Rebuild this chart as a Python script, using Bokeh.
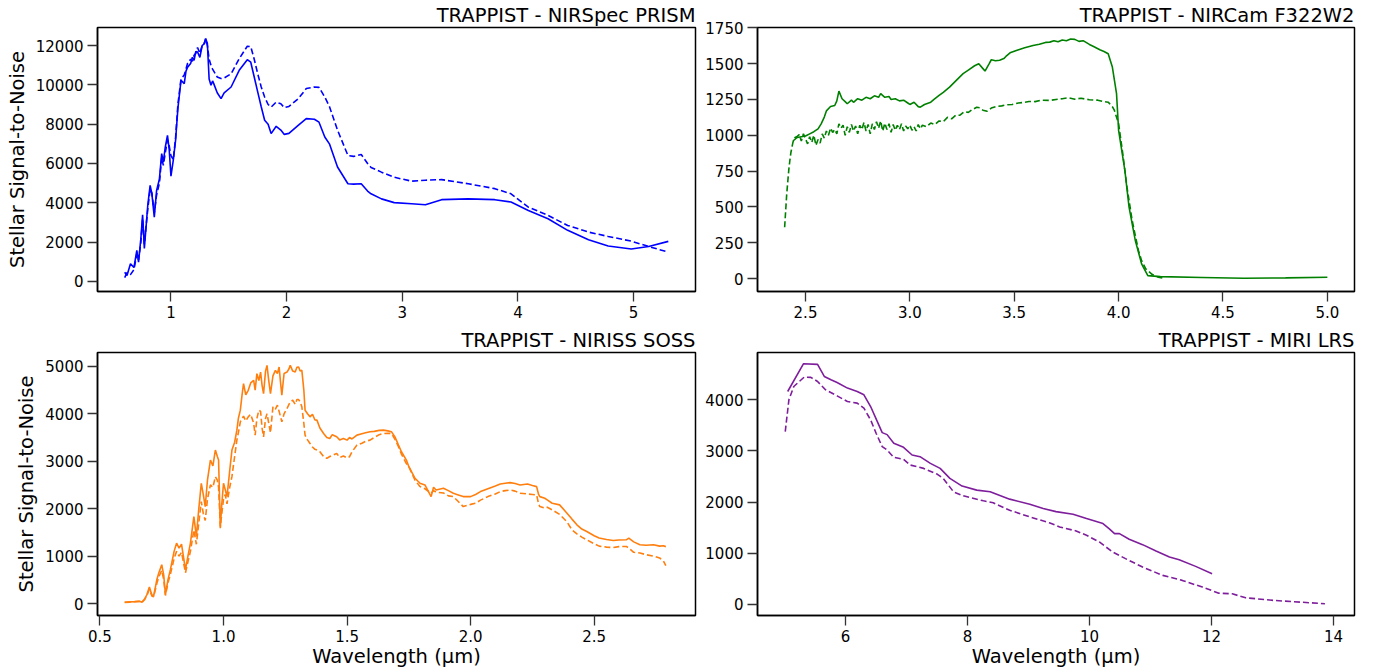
from bokeh.plotting import figure
from bokeh.layouts import column, row
from bokeh.models import Range1d, FixedTicker, PrintfTickFormatter
from bokeh.embed import file_html
from bokeh.resources import INLINE

# ---------------- DATA ----------------
# NIRSpec PRISM (shared wavelength grid; a = solid, b = dashed)
prism_wl = [0.60, 0.62, 0.65, 0.68, 0.705, 0.72, 0.74, 0.755, 0.77, 0.80, 0.82, 0.835, 0.856, 0.876, 0.90,
            0.92, 0.934, 0.95, 0.97, 0.985, 1.0, 1.02, 1.04, 1.06, 1.087, 1.115, 1.13, 1.144, 1.17, 1.185,
            1.20, 1.215, 1.23, 1.25, 1.27, 1.29, 1.30, 1.315, 1.33, 1.346, 1.36, 1.37, 1.40, 1.433, 1.46,
            1.52, 1.59, 1.66, 1.69, 1.72, 1.75, 1.78, 1.81, 1.84, 1.866, 1.91, 1.95, 1.98, 2.02, 2.10,
            2.17, 2.24, 2.28, 2.33, 2.37, 2.44, 2.53, 2.58, 2.645, 2.70, 2.73, 2.82, 2.93, 3.08, 3.20,
            3.34, 3.57, 3.80, 3.94, 4.09, 4.26, 4.43, 4.61, 4.78, 4.98, 5.13, 5.30]
prism_snr_a = [470, 300, 900, 710, 1580, 980, 2200, 3390, 1680, 3900, 4890, 4470, 3270, 4630, 5200,
               6500, 6070, 6800, 7430, 6700, 5360, 6160, 7180, 8800, 10230, 10060, 10700, 10900, 11080, 11400,
               11250, 11700, 11670, 11400, 12000, 12100, 12350, 12100, 10300, 9980, 10200, 10060, 9600, 9300, 9590,
               9890, 10740, 11280, 11150, 10400, 9640, 8900, 8200, 8000, 7520, 7890, 7700, 7480, 7530, 7940,
               8280, 8250, 8100, 7350, 7000, 5820, 4970, 4950, 4970, 4600, 4460, 4200, 4010, 3950, 3900,
               4160, 4200, 4160, 4040, 3610, 3190, 2600, 2120, 1800, 1650, 1780, 2040]
prism_snr_b = [200, 450, 350, 600, 1400, 1100, 2000, 3200, 1900, 3700, 4700, 4500, 3500, 4400, 5000,
               6300, 5900, 6500, 7200, 6900, 6400, 6200, 7300, 9000, 10300, 10500, 10800, 11100, 11300, 11200,
               11500, 11600, 11900, 11600, 12000, 12150, 12350, 12000, 11300, 10990, 10800, 10700, 10400, 10320, 10350,
               10560, 11330, 11960, 11940, 11300, 10570, 9900, 9380, 9000, 8870, 9120, 9040, 8840, 8900, 9290,
               9810, 9890, 9870, 9380, 8900, 7700, 6410, 6360, 6460, 6000, 5800, 5560, 5300, 5100, 5150,
               5180, 4970, 4720, 4460, 3780, 3360, 2850, 2510, 2290, 2050, 1780, 1490]

# NIRCam F322W2 solid
nircam_wl_a = [2.44, 2.46, 2.48, 2.50, 2.52, 2.54, 2.56, 2.575, 2.59, 2.60, 2.62, 2.64, 2.65, 2.66, 2.675,
               2.69, 2.70, 2.72, 2.73, 2.75, 2.77, 2.79, 2.81, 2.83, 2.85, 2.86, 2.88, 2.90, 2.91, 2.93,
               2.95, 2.97, 2.99, 3.00, 3.02, 3.04, 3.05, 3.07, 3.10, 3.12, 3.14, 3.16, 3.19, 3.22, 3.255,
               3.28, 3.31, 3.33, 3.35, 3.36, 3.38, 3.39, 3.41, 3.43, 3.45, 3.46, 3.48, 3.51, 3.55, 3.59,
               3.62, 3.65, 3.67, 3.69, 3.71, 3.73, 3.75, 3.77, 3.79, 3.81, 3.83, 3.86, 3.88, 3.91, 3.93,
               3.95, 3.97, 3.99, 4.00, 4.03, 4.05, 4.08, 4.11, 4.14, 4.20, 4.40, 4.60, 4.80, 5.00]
nircam_snr_a = [960, 985, 990, 995, 1010, 1025, 1045, 1080, 1127, 1170, 1201, 1208, 1240, 1308, 1255,
                1235, 1220, 1245, 1230, 1255, 1245, 1265, 1255, 1275, 1265, 1290, 1265, 1270, 1250, 1255,
                1240, 1245, 1225, 1215, 1230, 1200, 1196, 1215, 1231, 1255, 1278, 1300, 1336, 1380, 1430,
                1455, 1485, 1499, 1465, 1448, 1500, 1527, 1520, 1523, 1535, 1550, 1575, 1592, 1610, 1627,
                1635, 1648, 1650, 1660, 1652, 1665, 1660, 1672, 1669, 1655, 1660, 1634, 1620, 1597, 1585,
                1569, 1476, 1290, 1034, 754, 498, 265, 103, 21, 14, 8, 2, 5, 9]

# NIRCam F322W2 dashed
nircam_wl_b = [2.40, 2.41, 2.42, 2.425, 2.43, 2.44, 2.45, 2.46, 2.47, 2.48, 2.49, 2.50, 2.51, 2.52, 2.53,
               2.54, 2.55, 2.56, 2.57, 2.58, 2.59, 2.60, 2.61, 2.62, 2.63, 2.64, 2.65, 2.66, 2.67, 2.68,
               2.69, 2.70, 2.71, 2.72, 2.73, 2.74, 2.75, 2.76, 2.77, 2.78, 2.79, 2.80, 2.81, 2.82, 2.83,
               2.84, 2.85, 2.86, 2.87, 2.88, 2.89, 2.90, 2.91, 2.92, 2.93, 2.94, 2.95, 2.96, 2.97, 2.98,
               2.99, 3.00, 3.01, 3.02, 3.03, 3.04, 3.05, 3.06, 3.08, 3.10, 3.12, 3.14, 3.16, 3.18, 3.20,
               3.22, 3.24, 3.26, 3.28, 3.30, 3.32, 3.335, 3.35, 3.37, 3.39, 3.415, 3.44, 3.46, 3.49, 3.52,
               3.55, 3.57, 3.60, 3.63, 3.67, 3.70, 3.73, 3.76, 3.79, 3.82, 3.86, 3.90, 3.93, 3.95, 3.97,
               3.98, 4.00, 4.02, 4.04, 4.065, 4.08, 4.095, 4.11, 4.13, 4.16, 4.19, 4.22]
nircam_snr_b = [358, 591, 760, 824, 880, 952, 985, 992, 1005, 960, 1010, 975, 940, 990, 950,
                1000, 930, 970, 945, 1010, 980, 1030, 1000, 1050, 1020, 1040, 1010, 1080, 1050, 1070,
                1000, 1060, 1020, 1075, 1030, 1065, 1010, 1070, 1040, 1090, 1030, 1075, 1010, 1080, 1040,
                1095, 1050, 1100, 1030, 1085, 1040, 1080, 1020, 1075, 1035, 1070, 1040, 1080, 1030, 1065,
                1045, 1070, 1035, 1060, 1030, 1075, 1045, 1070, 1060, 1085, 1075, 1100, 1095, 1125, 1115,
                1140, 1140, 1165, 1160, 1180, 1195, 1192, 1175, 1168, 1190, 1201, 1205, 1212, 1215, 1225,
                1230, 1236, 1235, 1245, 1243, 1250, 1255, 1262, 1252, 1258, 1248, 1245, 1235, 1231, 1200,
                1173, 1080, 871, 638, 405, 300, 196, 125, 68, 30, 10, 2]

# NIRISS SOSS (shared grid; a = solid, b = dashed)
niriss_wl = [0.60, 0.62, 0.64, 0.66, 0.67, 0.68, 0.69, 0.70, 0.71, 0.717, 0.73, 0.738, 0.75, 0.758, 0.765,
             0.775, 0.785, 0.80, 0.81, 0.82, 0.83, 0.846, 0.856, 0.866, 0.88, 0.89, 0.90, 0.91, 0.918, 0.926,
             0.935, 0.947, 0.957, 0.967, 0.975, 0.98, 0.987, 0.993, 1.0, 1.007, 1.014, 1.025, 1.034, 1.045, 1.054,
             1.06, 1.068, 1.075, 1.081, 1.09, 1.10, 1.11, 1.122, 1.128, 1.135, 1.143, 1.15, 1.156, 1.162, 1.17,
             1.176, 1.183, 1.19, 1.20, 1.21, 1.218, 1.225, 1.23, 1.236, 1.245, 1.257, 1.265, 1.27, 1.28, 1.29,
             1.297, 1.304, 1.31, 1.317, 1.325, 1.33, 1.34, 1.35, 1.36, 1.37, 1.378, 1.39, 1.405, 1.418, 1.43,
             1.44, 1.458, 1.47, 1.485, 1.50, 1.51, 1.52, 1.54, 1.56, 1.575, 1.593, 1.61, 1.63, 1.647, 1.665,
             1.68, 1.695, 1.708, 1.72, 1.74, 1.75, 1.775, 1.795, 1.815, 1.84, 1.85, 1.86, 1.89, 1.91, 1.93,
             1.95, 1.97, 2.00, 2.02, 2.04, 2.07, 2.10, 2.12, 2.14, 2.16, 2.18, 2.20, 2.23, 2.25, 2.267,
             2.275, 2.28, 2.30, 2.31, 2.33, 2.36, 2.39, 2.41, 2.43, 2.45, 2.47, 2.50, 2.52, 2.55, 2.577,
             2.60, 2.63, 2.64, 2.66, 2.685, 2.71, 2.74, 2.765, 2.78, 2.79]
niriss_snr_a = [27, 35, 40, 48, 30, 90, 189, 351, 180, 154, 500, 644, 819, 600, 189,
                500, 714, 1100, 1274, 1169, 1250, 714, 1000, 1274, 1834, 1414, 2000, 2535, 2300, 2044,
                2600, 3025, 2900, 3235, 3100, 3025, 1590, 2100, 2535, 2400, 2254, 2800, 3235, 3400, 3655,
                3900, 4076, 4400, 4636, 4400, 4496, 4650, 4706, 4500, 4846, 4700, 4880, 4600, 4426, 4900,
                5021, 4700, 4426, 4800, 4916, 4850, 4986, 4700, 4391, 4850, 4880, 4950, 5021, 4900, 4880,
                4980, 4986, 4900, 4916, 4500, 4076, 4000, 3936, 3990, 3870, 3866, 3700, 3585, 3500, 3480,
                3560, 3515, 3450, 3480, 3445, 3500, 3470, 3550, 3580, 3600, 3620, 3630, 3650, 3655, 3640,
                3620, 3500, 3340, 3200, 3025, 2884, 2640, 2535, 2500, 2254, 2450, 2394, 2430, 2380, 2325,
                2290, 2254, 2254, 2300, 2360, 2420, 2480, 2521, 2535, 2549, 2530, 2500, 2521, 2490, 2465,
                2300, 2254, 2220, 2185, 2115, 2080, 1905, 1780, 1660, 1570, 1519, 1430, 1380, 1350, 1330,
                1340, 1344, 1380, 1300, 1240, 1230, 1240, 1210, 1218, 1200]
niriss_snr_b = [25, 30, 38, 45, 28, 80, 170, 300, 160, 140, 420, 560, 700, 500, 170,
                430, 620, 950, 1100, 1000, 1080, 650, 880, 1100, 1550, 1250, 1700, 2150, 1900, 1750,
                2200, 2500, 2450, 2675, 2600, 2450, 1625, 1900, 2200, 2300, 2100, 2450, 2675, 3100, 3445,
                3600, 3830, 3900, 3950, 3850, 3936, 3990, 3800, 3550, 3900, 4076, 4050, 3700, 3515, 3900,
                4000, 3800, 3600, 4146, 4100, 4181, 4050, 3950, 3830, 4000, 4111, 4200, 4250, 4286, 4200,
                4300, 4300, 4250, 4146, 3800, 3550, 3450, 3375, 3300, 3250, 3235, 3200, 3100, 3060, 3100,
                3120, 3165, 3080, 3110, 3070, 3095, 3200, 3340, 3380, 3420, 3445, 3500, 3560, 3585, 3590,
                3585, 3450, 3305, 3150, 2950, 2884, 2600, 2465, 2420, 2325, 2380, 2350, 2330, 2270, 2254,
                2150, 2044, 2090, 2115, 2180, 2254, 2310, 2360, 2380, 2394, 2370, 2325, 2310, 2300, 2290,
                2100, 2044, 2010, 2030, 1975, 1880, 1720, 1555, 1470, 1400, 1344, 1260, 1210, 1190, 1180,
                1200, 1204, 1170, 1080, 1065, 1030, 1000, 960, 900, 798]

# MIRI LRS solid
miri_wl_a = [5.05, 5.31, 5.54, 5.65, 5.76, 5.86, 6.03, 6.19, 6.30, 6.41, 6.52, 6.60, 6.68, 6.79, 6.95,
             7.09, 7.22, 7.39, 7.55, 7.71, 7.91, 8.15, 8.37, 8.69, 9.02, 9.24, 9.45, 9.73, 9.95, 10.22,
             10.32, 10.41, 10.49, 10.65, 10.87, 11.09, 11.31, 11.47, 11.74, 12.01]
miri_snr_a = [4163, 4706, 4693, 4457, 4392, 4340, 4229, 4163, 4098, 3869, 3575, 3359, 3320, 3150, 3072,
              2922, 2889, 2758, 2660, 2464, 2314, 2235, 2202, 2059, 1961, 1876, 1815, 1765, 1680, 1582,
              1484, 1386, 1386, 1275, 1170, 1046, 928, 876, 745, 601]
# MIRI LRS dashed
miri_wl_b = [5.01, 5.07, 5.15, 5.32, 5.43, 5.54, 5.67, 5.86, 6.03, 6.19, 6.30, 6.41, 6.50, 6.60, 6.68,
             6.79, 6.95, 7.06, 7.28, 7.50, 7.60, 7.77, 7.93, 8.26, 8.42, 8.69, 9.02, 9.35, 9.51, 9.78,
             9.95, 10.16, 10.38, 10.59, 10.87, 11.20, 11.52, 11.85, 12.12, 12.34, 12.56, 13.04, 13.48, 13.86]
miri_snr_b = [3379, 4000, 4261, 4444, 4438, 4359, 4196, 4078, 3967, 3935, 3837, 3608, 3347, 3085, 3020,
              2876, 2837, 2725, 2660, 2549, 2464, 2202, 2124, 2026, 1987, 1843, 1712, 1594, 1516, 1438,
              1353, 1222, 1026, 896, 732, 569, 471, 340, 222, 209, 131, 78, 45, 14]

titles = ["TRAPPIST - NIRSpec PRISM", "TRAPPIST - NIRCam F322W2",
          "TRAPPIST - NIRISS SOSS", "TRAPPIST - MIRI LRS"]
ylabel = "Stellar Signal-to-Noise"
xlabel = "Wavelength (\u03bcm)"

prism_xticks = [1, 2, 3, 4, 5]
prism_yticks = [0, 2000, 4000, 6000, 8000, 10000, 12000]
nircam_xticks = [2.5, 3.0, 3.5, 4.0, 4.5, 5.0]
nircam_yticks = [0, 250, 500, 750, 1000, 1250, 1500, 1750]
niriss_xticks = [0.5, 1.0, 1.5, 2.0, 2.5]
niriss_yticks = [0, 1000, 2000, 3000, 4000, 5000]
miri_xticks = [6, 8, 10, 12, 14]
miri_yticks = [0, 1000, 2000, 3000, 4000]

FONT = "DejaVu Sans"
LW = 1.6
DASH = "6 3"


def make_fig(width, height, xr, yr, title, borders, xticks, yticks, xfmt=None,
             xlab=None, ylab=None):
    p = figure(width=width, height=height, x_range=Range1d(*xr), y_range=Range1d(*yr),
               output_backend="svg", toolbar_location=None, tools="")
    p.min_border_left, p.min_border_right, p.min_border_top, p.min_border_bottom = borders
    p.background_fill_color = "white"
    p.border_fill_color = "white"
    p.outline_line_color = "black"
    p.outline_line_width = 1.5
    p.outline_line_alpha = 1.0
    p.grid.visible = False
    p.title.text = title
    p.title.align = "right"
    p.title.text_font = FONT
    p.title.text_font_size = "19.5px"
    p.title.text_font_style = "normal"
    p.title.text_color = "black"
    p.title.standoff = 2
    for ax in (p.xaxis[0], p.yaxis[0]):
        ax.axis_line_color = "black"
        ax.axis_line_width = 1.5
        ax.major_tick_out = 10
        ax.major_tick_in = 0
        ax.minor_tick_out = 0
        ax.minor_tick_in = 0
        ax.major_tick_line_color = "#333333"
        ax.major_tick_line_width = 1.3
        ax.major_label_text_font = FONT
        ax.major_label_text_font_size = "15px"
        ax.major_label_text_color = "black"
        ax.major_label_standoff = 4
        ax.axis_label_text_font = FONT
        ax.axis_label_text_font_size = "19.5px"
        ax.axis_label_text_font_style = "normal"
        ax.axis_label_text_color = "black"
        ax.axis_label_standoff = 4
    p.xaxis[0].axis_label_standoff = 0
    p.xaxis[0].ticker = FixedTicker(ticks=xticks)
    p.yaxis[0].ticker = FixedTicker(ticks=yticks)
    if xfmt:
        p.xaxis[0].formatter = PrintfTickFormatter(format=xfmt)
    if xlab:
        p.xaxis[0].axis_label = xlab
    if ylab:
        p.yaxis[0].axis_label = ylab
    return p


TOP_H = 324
BOT_H = 348
LEFT_W = 700
RIGHT_W = 679

p1 = make_fig(LEFT_W, TOP_H, (0.365, 5.535), (-510, 12916), titles[0], (97, 5, 27, 33),
              prism_xticks, prism_yticks, ylab=ylabel)
p1.line(prism_wl, prism_snr_a, line_color="#0000ff", line_width=LW)
p1.line(prism_wl, prism_snr_b, line_color="#0000ff", line_width=LW, line_dash=DASH)

p2 = make_fig(RIGHT_W, TOP_H, (2.27, 5.13), (-90, 1752), titles[1], (57, 25, 27, 33),
              nircam_xticks, nircam_yticks, xfmt="%.1f")
p2.line(nircam_wl_a, nircam_snr_a, line_color="#008000", line_width=LW)
p2.line(nircam_wl_b, nircam_snr_b, line_color="#008000", line_width=LW, line_dash=DASH)

p3 = make_fig(LEFT_W, BOT_H, (0.49, 2.91), (-252, 5292), titles[2], (97, 5, 28, 57),
              niriss_xticks, niriss_yticks, xfmt="%.1f", xlab=xlabel, ylab=ylabel)
p3.line(niriss_wl, niriss_snr_a, line_color="#ff7f0e", line_width=LW)
p3.line(niriss_wl, niriss_snr_b, line_color="#ff7f0e", line_width=LW, line_dash=DASH)

p4 = make_fig(RIGHT_W, BOT_H, (4.555, 14.345), (-215, 4925), titles[3], (57, 25, 28, 57),
              miri_xticks, miri_yticks, xlab=xlabel)
p4.line(miri_wl_a, miri_snr_a, line_color="#7e1e9c", line_width=LW)
p4.line(miri_wl_b, miri_snr_b, line_color="#7e1e9c", line_width=LW, line_dash=DASH)

layout = column(row(p1, p2), row(p3, p4))
open("out.html", "w").write(file_html(layout, INLINE))
